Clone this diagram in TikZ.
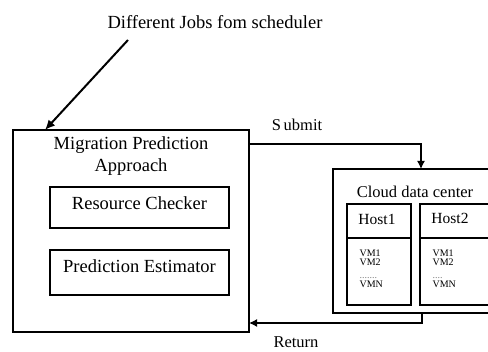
\documentclass[tikz,border=0pt]{standalone}
\usepackage{fontspec}
\setmainfont{Liberation Serif}
\usetikzlibrary{arrows.meta,calc}
\begin{document}
\begin{tikzpicture}[x=1pt,y=-1pt,
  box/.style={draw, line width=1.3pt, inner sep=0pt, outer sep=0pt},
  conn/.style={line width=1.4pt, -{Latex[length=8pt,width=8pt]}},
  big/.style={font=\fontsize{18.5}{22.5}\selectfont},
  mid/.style={font=\fontsize{16.5}{19}\selectfont},
  tiny/.style={font=\fontsize{10}{9}\selectfont, align=left},
]
\useasboundingbox (0,0) rectangle (488,352);
\clip (0,0) rectangle (488,352);
% title
\node[big] (title) at (215,22) {Different Jobs fom scheduler};
% main box
\node[box, minimum width=236pt, minimum height=202pt] (main) at (131,231) {};
\node[big, align=center] (mtitle) at (131,156) {Migration Prediction\\Approach};
\node[box, minimum width=179pt, minimum height=41pt] (rc) at (139.5,207.5) {};
\node[big] (rct) at (139.5,203) {Resource Checker};
\node[box, minimum width=179pt, minimum height=45pt] (pe) at (139.5,272.5) {};
\node[big] (pet) at (139.5,266) {Prediction Estimator};
% cloud data center
\node[box, minimum width=160pt, minimum height=144pt] (cloud) at (413,241) {};
\node[mid] (ct) at (415,192) {Cloud data center};
\node[box, minimum width=64pt, minimum height=101pt] (h1) at (379,254.5) {};
\draw[line width=1.1pt] (h1.west |- 0,238) -- (h1.east |- 0,238);
\node[font=\fontsize{15.5}{18}\selectfont] (h1t) at (377,219) {Host1};
\node[tiny, anchor=north west] (h1v) at (356,246) {VM1\\VM2\\[4pt]\textcolor{gray}{.......}\\VMN};
\node[box, minimum width=69pt, minimum height=101pt] (h2) at (454.5,254.5) {};
\draw[line width=1.1pt] (h2.west |- 0,238) -- (h2.east |- 0,238);
\node[font=\fontsize{15.5}{18}\selectfont] (h2t) at (450,218) {Host2};
\node[tiny, anchor=north west] (h2v) at (429,246) {VM1\\VM2\\[4pt]\textcolor{gray}{....}\\VMN};
% connectors
\draw[line width=2pt, -{Latex[length=10pt,width=9pt]}] (128,40) -- (main.north west -| 45,0);
\coordinate (sub) at (421,144);
\draw[conn] (main.east |- sub) -- (sub) -- (cloud.north -| sub);
\node[mid] (subt) at (297,125) {S\,ubmit};
\coordinate (ret) at (422,323);
\draw[conn] (cloud.south -| ret) -- (ret) -- (main.east |- ret);
\node[mid] (rett) at (296,342) {Return};
\end{tikzpicture}
\end{document}
